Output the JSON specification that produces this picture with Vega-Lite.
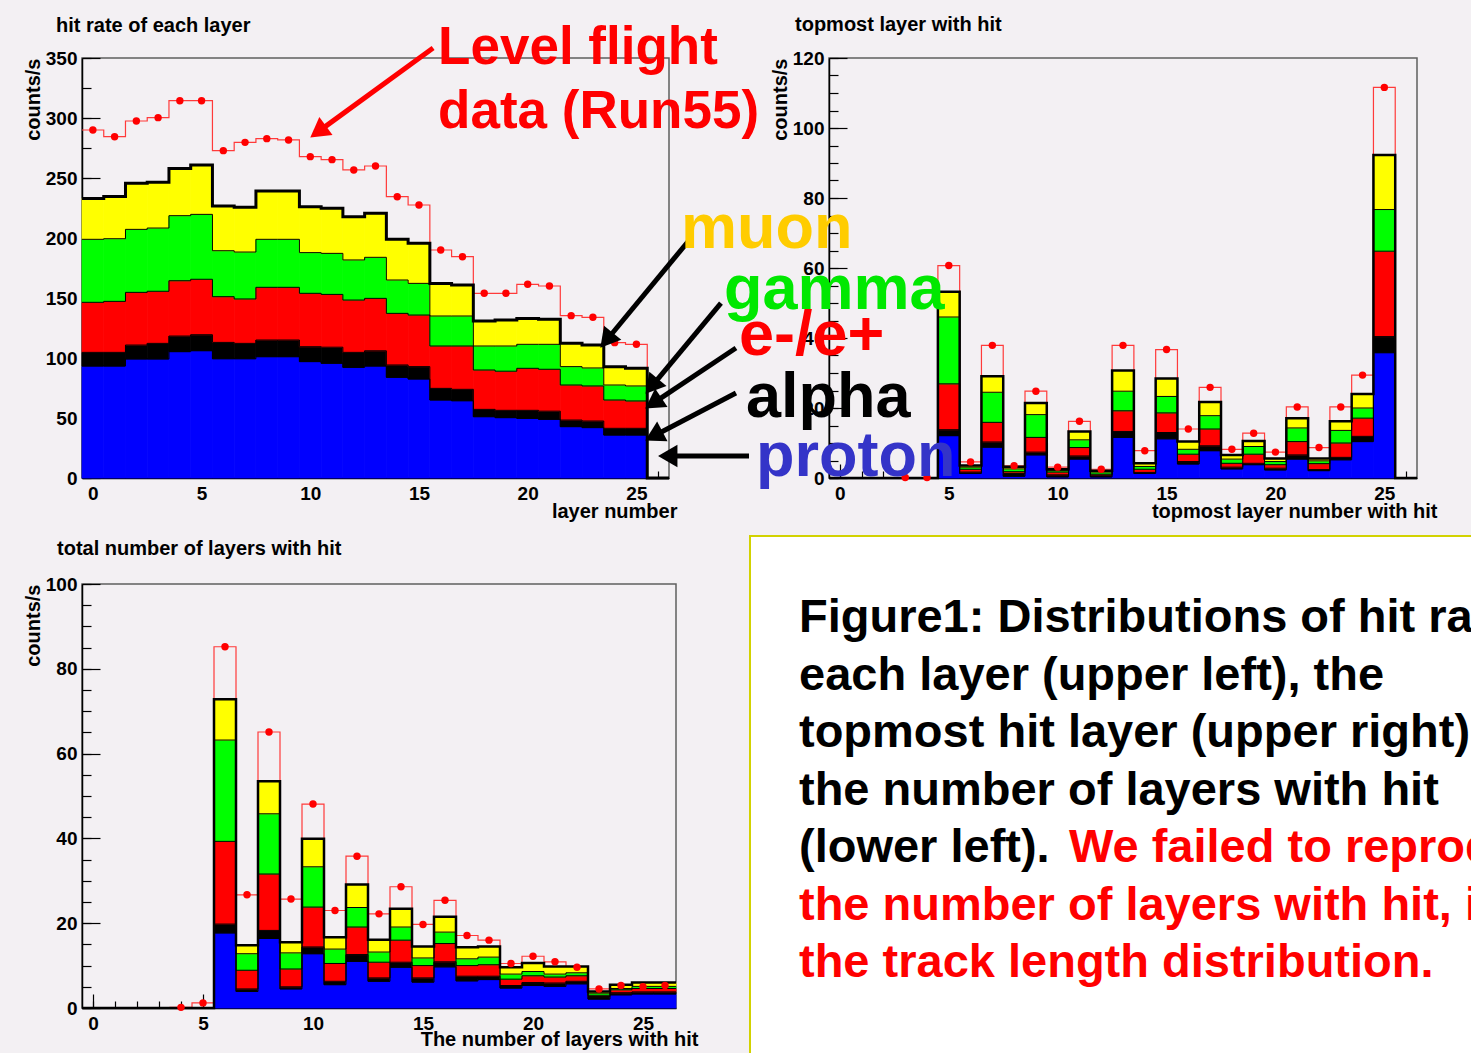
{
"$schema": "https://vega.github.io/schema/vega-lite/v6.json",
"background": "#f3f0f3",
"padding": {"left": 22, "top": 14, "right": 0, "bottom": 0},
"config": {
  "view": {"stroke": "#5f5f5f", "strokeWidth": 1.5},
  "axis": {"labelFont": "Liberation Sans", "labelFontSize": 19, "labelFontWeight": "bold", "labelColor": "#000000", "titleFont": "Liberation Sans", "titleFontSize": 20, "titleFontWeight": "bold", "titleColor": "#000000", "domainColor": "#000000", "domainWidth": 1.5, "tickColor": "#000000", "tickWidth": 1.2, "grid": false, "labelOverlap": false, "labelFlush": false, "labelBound": false},
  "title": {"font": "Liberation Sans", "fontSize": 20, "fontWeight": "bold", "color": "#000000", "anchor": "start", "frame": "group", "baseline": "alphabetic"},
  "text": {"font": "Liberation Sans", "fontWeight": "bold"}
},
"datasets": {
  "species": [{"species": "proton", "rank": 1}, {"species": "alpha", "rank": 2}, {"species": "electron", "rank": 3}, {"species": "gamma", "rank": 4}, {"species": "muon", "rank": 5}],
  "hitrate": [
    {"layer": 0, "lo": -0.5, "hi": 0.5, "proton": 93.3, "alpha": 11.4, "electron": 41.7, "gamma": 52.5, "muon": 34.1, "flight": 290.0},
    {"layer": 1, "lo": 0.5, "hi": 1.5, "proton": 93.3, "alpha": 11.4, "electron": 42.5, "gamma": 52.2, "muon": 35.1, "flight": 284.4},
    {"layer": 2, "lo": 1.5, "hi": 2.5, "proton": 99.2, "alpha": 11.6, "electron": 43.9, "gamma": 52.5, "muon": 38.4, "flight": 297.5},
    {"layer": 3, "lo": 2.5, "hi": 3.5, "proton": 99.2, "alpha": 13.0, "electron": 43.4, "gamma": 52.7, "muon": 38.1, "flight": 300.3},
    {"layer": 4, "lo": 3.5, "hi": 4.5, "proton": 105.3, "alpha": 13.0, "electron": 46.1, "gamma": 54.2, "muon": 39.4, "flight": 314.4},
    {"layer": 5, "lo": 4.5, "hi": 5.5, "proton": 106.1, "alpha": 13.3, "electron": 46.2, "gamma": 54.1, "muon": 41.1, "flight": 314.4},
    {"layer": 6, "lo": 5.5, "hi": 6.5, "proton": 99.4, "alpha": 13.6, "electron": 38.1, "gamma": 38.3, "muon": 37.3, "flight": 272.8},
    {"layer": 7, "lo": 6.5, "hi": 7.5, "proton": 99.4, "alpha": 12.8, "electron": 37.0, "gamma": 39.1, "muon": 37.3, "flight": 279.7},
    {"layer": 8, "lo": 7.5, "hi": 8.5, "proton": 101.1, "alpha": 13.9, "electron": 43.9, "gamma": 40.0, "muon": 40.3, "flight": 282.8},
    {"layer": 9, "lo": 8.5, "hi": 9.5, "proton": 101.1, "alpha": 13.9, "electron": 43.9, "gamma": 40.0, "muon": 40.3, "flight": 281.7},
    {"layer": 10, "lo": 9.5, "hi": 10.5, "proton": 97.0, "alpha": 12.4, "electron": 44.5, "gamma": 33.9, "muon": 38.2, "flight": 267.8},
    {"layer": 11, "lo": 10.5, "hi": 11.5, "proton": 95.6, "alpha": 13.4, "electron": 44.0, "gamma": 34.2, "muon": 37.5, "flight": 265.3},
    {"layer": 12, "lo": 11.5, "hi": 12.5, "proton": 92.2, "alpha": 12.5, "electron": 43.6, "gamma": 33.4, "muon": 36.1, "flight": 256.7},
    {"layer": 13, "lo": 12.5, "hi": 13.5, "proton": 93.3, "alpha": 12.7, "electron": 43.7, "gamma": 34.2, "muon": 36.7, "flight": 260.0},
    {"layer": 14, "lo": 13.5, "hi": 14.5, "proton": 83.9, "alpha": 10.3, "electron": 43.0, "gamma": 27.8, "muon": 34.0, "flight": 234.4},
    {"layer": 15, "lo": 14.5, "hi": 15.5, "proton": 82.5, "alpha": 10.3, "electron": 43.0, "gamma": 26.4, "muon": 33.4, "flight": 227.5},
    {"layer": 16, "lo": 15.5, "hi": 16.5, "proton": 65.0, "alpha": 9.7, "electron": 35.3, "gamma": 25.0, "muon": 27.0, "flight": 190.0},
    {"layer": 17, "lo": 16.5, "hi": 17.5, "proton": 64.4, "alpha": 9.5, "electron": 36.1, "gamma": 25.0, "muon": 25.8, "flight": 184.4},
    {"layer": 18, "lo": 17.5, "hi": 18.5, "proton": 51.1, "alpha": 6.1, "electron": 32.8, "gamma": 20.0, "muon": 20.8, "flight": 153.9},
    {"layer": 19, "lo": 18.5, "hi": 19.5, "proton": 50.3, "alpha": 6.1, "electron": 32.6, "gamma": 21.0, "muon": 21.7, "flight": 153.9},
    {"layer": 20, "lo": 19.5, "hi": 20.5, "proton": 49.7, "alpha": 6.7, "electron": 35.0, "gamma": 20.0, "muon": 21.6, "flight": 161.4},
    {"layer": 21, "lo": 20.5, "hi": 21.5, "proton": 48.9, "alpha": 6.8, "electron": 34.9, "gamma": 20.8, "muon": 20.8, "flight": 160.0},
    {"layer": 22, "lo": 21.5, "hi": 22.5, "proton": 42.8, "alpha": 5.5, "electron": 29.2, "gamma": 15.3, "muon": 19.4, "flight": 135.3},
    {"layer": 23, "lo": 22.5, "hi": 23.5, "proton": 42.0, "alpha": 5.5, "electron": 29.2, "gamma": 15.0, "muon": 19.1, "flight": 133.9},
    {"layer": 24, "lo": 23.5, "hi": 24.5, "proton": 35.8, "alpha": 5.6, "electron": 23.6, "gamma": 12.5, "muon": 15.3, "flight": 112.8},
    {"layer": 25, "lo": 24.5, "hi": 25.5, "proton": 35.8, "alpha": 5.6, "electron": 22.8, "gamma": 12.5, "muon": 14.7, "flight": 111.4},
    {"layer": 26, "lo": 25.5, "hi": 26.5, "proton": 0, "alpha": 0, "electron": 0, "gamma": 0, "muon": 0, "flight": 0}
  ],
  "topmost": [
    {"layer": 0, "lo": -0.5, "hi": 0.5, "proton": 0, "alpha": 0, "electron": 0, "gamma": 0, "muon": 0, "flight": 0},
    {"layer": 1, "lo": 0.5, "hi": 1.5, "proton": 0, "alpha": 0, "electron": 0, "gamma": 0, "muon": 0, "flight": 0},
    {"layer": 2, "lo": 1.5, "hi": 2.5, "proton": 0, "alpha": 0, "electron": 0, "gamma": 0, "muon": 0, "flight": 0},
    {"layer": 3, "lo": 2.5, "hi": 3.5, "proton": 0, "alpha": 0, "electron": 0, "gamma": 0, "muon": 0, "flight": 0.15},
    {"layer": 4, "lo": 3.5, "hi": 4.5, "proton": 0, "alpha": 0, "electron": 0, "gamma": 0, "muon": 0, "flight": 0.15},
    {"layer": 5, "lo": 4.5, "hi": 5.5, "proton": 12.1, "alpha": 1.7, "electron": 13.1, "gamma": 19.1, "muon": 7.2, "flight": 60.7},
    {"layer": 6, "lo": 5.5, "hi": 6.5, "proton": 1.3, "alpha": 0.4, "electron": 0.8, "gamma": 0.6, "muon": 0.5, "flight": 4.6},
    {"layer": 7, "lo": 6.5, "hi": 7.5, "proton": 8.8, "alpha": 1.5, "electron": 5.6, "gamma": 8.6, "muon": 4.6, "flight": 37.9},
    {"layer": 8, "lo": 7.5, "hi": 8.5, "proton": 0.5, "alpha": 0.8, "electron": 0.5, "gamma": 0.8, "muon": 0.6, "flight": 3.5},
    {"layer": 9, "lo": 8.5, "hi": 9.5, "proton": 6.6, "alpha": 0.8, "electron": 4.2, "gamma": 6.5, "muon": 3.3, "flight": 24.8},
    {"layer": 10, "lo": 9.5, "hi": 10.5, "proton": 0.3, "alpha": 0.6, "electron": 0.8, "gamma": 0.4, "muon": 0.4, "flight": 3.1},
    {"layer": 11, "lo": 10.5, "hi": 11.5, "proton": 5.4, "alpha": 0.9, "electron": 2.4, "gamma": 2.2, "muon": 2.4, "flight": 16.2},
    {"layer": 12, "lo": 11.5, "hi": 12.5, "proton": 0.3, "alpha": 0.5, "electron": 0.3, "gamma": 0.6, "muon": 0.4, "flight": 2.5},
    {"layer": 13, "lo": 12.5, "hi": 13.5, "proton": 11.6, "alpha": 1.7, "electron": 5.9, "gamma": 5.6, "muon": 5.9, "flight": 37.9},
    {"layer": 14, "lo": 13.5, "hi": 14.5, "proton": 1.3, "alpha": 0.3, "electron": 0.9, "gamma": 0.8, "muon": 0.9, "flight": 7.8},
    {"layer": 15, "lo": 14.5, "hi": 15.5, "proton": 11.2, "alpha": 1.8, "electron": 5.6, "gamma": 4.7, "muon": 5.1, "flight": 36.7},
    {"layer": 16, "lo": 15.5, "hi": 16.5, "proton": 4.0, "alpha": 0.7, "electron": 2.1, "gamma": 1.4, "muon": 2.2, "flight": 14.0},
    {"layer": 17, "lo": 16.5, "hi": 17.5, "proton": 7.8, "alpha": 1.4, "electron": 4.8, "gamma": 3.8, "muon": 3.9, "flight": 25.9},
    {"layer": 18, "lo": 17.5, "hi": 18.5, "proton": 2.6, "alpha": 0.5, "electron": 1.1, "gamma": 1.2, "muon": 1.2, "flight": 8.2},
    {"layer": 19, "lo": 18.5, "hi": 19.5, "proton": 3.8, "alpha": 0.4, "electron": 2.6, "gamma": 2.2, "muon": 1.6, "flight": 12.8},
    {"layer": 20, "lo": 19.5, "hi": 20.5, "proton": 2.3, "alpha": 0.5, "electron": 1.0, "gamma": 0.9, "muon": 0.9, "flight": 7.4},
    {"layer": 21, "lo": 20.5, "hi": 21.5, "proton": 5.4, "alpha": 1.2, "electron": 3.8, "gamma": 3.9, "muon": 2.8, "flight": 20.3},
    {"layer": 22, "lo": 21.5, "hi": 22.5, "proton": 2.1, "alpha": 0.3, "electron": 1.7, "gamma": 0.8, "muon": 0.7, "flight": 8.7},
    {"layer": 23, "lo": 22.5, "hi": 23.5, "proton": 5.2, "alpha": 0.7, "electron": 4.1, "gamma": 3.6, "muon": 2.6, "flight": 20.3},
    {"layer": 24, "lo": 23.5, "hi": 24.5, "proton": 10.4, "alpha": 1.5, "electron": 5.2, "gamma": 2.9, "muon": 4.0, "flight": 29.4},
    {"layer": 25, "lo": 24.5, "hi": 25.5, "proton": 35.8, "alpha": 4.6, "electron": 24.4, "gamma": 11.9, "muon": 15.6, "flight": 111.6},
    {"layer": 26, "lo": 25.5, "hi": 26.5, "proton": 0, "alpha": 0, "electron": 0, "gamma": 0, "muon": 0, "flight": 0}
  ],
  "nlayers": [
    {"layer": 0, "lo": -0.5, "hi": 0.5, "proton": 0, "alpha": 0, "electron": 0, "gamma": 0, "muon": 0, "flight": 0},
    {"layer": 1, "lo": 0.5, "hi": 1.5, "proton": 0, "alpha": 0, "electron": 0, "gamma": 0, "muon": 0, "flight": 0},
    {"layer": 2, "lo": 1.5, "hi": 2.5, "proton": 0, "alpha": 0, "electron": 0, "gamma": 0, "muon": 0, "flight": 0},
    {"layer": 3, "lo": 2.5, "hi": 3.5, "proton": 0, "alpha": 0, "electron": 0, "gamma": 0, "muon": 0, "flight": 0},
    {"layer": 4, "lo": 3.5, "hi": 4.5, "proton": 0, "alpha": 0, "electron": 0, "gamma": 0, "muon": 0, "flight": 0.15},
    {"layer": 5, "lo": 4.5, "hi": 5.5, "proton": 0, "alpha": 0, "electron": 0, "gamma": 0, "muon": 0, "flight": 1.2},
    {"layer": 6, "lo": 5.5, "hi": 6.5, "proton": 17.7, "alpha": 2.1, "electron": 19.5, "gamma": 23.9, "muon": 9.6, "flight": 85.2},
    {"layer": 7, "lo": 6.5, "hi": 7.5, "proton": 3.9, "alpha": 0.6, "electron": 4.4, "gamma": 3.9, "muon": 2.0, "flight": 26.7},
    {"layer": 8, "lo": 7.5, "hi": 8.5, "proton": 16.4, "alpha": 1.9, "electron": 13.3, "gamma": 14.2, "muon": 7.7, "flight": 65.1},
    {"layer": 9, "lo": 8.5, "hi": 9.5, "proton": 4.5, "alpha": 0.5, "electron": 4.2, "gamma": 3.8, "muon": 2.5, "flight": 25.7},
    {"layer": 10, "lo": 9.5, "hi": 10.5, "proton": 12.8, "alpha": 1.6, "electron": 9.4, "gamma": 9.5, "muon": 6.6, "flight": 48.1},
    {"layer": 11, "lo": 10.5, "hi": 11.5, "proton": 5.5, "alpha": 0.8, "electron": 4.2, "gamma": 3.4, "muon": 2.8, "flight": 23.0},
    {"layer": 12, "lo": 11.5, "hi": 12.5, "proton": 11.0, "alpha": 1.6, "electron": 6.5, "gamma": 4.6, "muon": 5.4, "flight": 35.8},
    {"layer": 13, "lo": 12.5, "hi": 13.5, "proton": 6.3, "alpha": 0.8, "electron": 3.7, "gamma": 2.4, "muon": 2.9, "flight": 22.2},
    {"layer": 14, "lo": 13.5, "hi": 14.5, "proton": 9.6, "alpha": 1.2, "electron": 5.2, "gamma": 3.1, "muon": 4.3, "flight": 28.6},
    {"layer": 15, "lo": 14.5, "hi": 15.5, "proton": 6.1, "alpha": 1.0, "electron": 2.9, "gamma": 1.8, "muon": 2.7, "flight": 19.7},
    {"layer": 16, "lo": 15.5, "hi": 16.5, "proton": 9.7, "alpha": 1.2, "electron": 4.3, "gamma": 2.7, "muon": 3.6, "flight": 25.4},
    {"layer": 17, "lo": 16.5, "hi": 17.5, "proton": 6.4, "alpha": 1.1, "electron": 2.5, "gamma": 1.6, "muon": 2.7, "flight": 17.1},
    {"layer": 18, "lo": 17.5, "hi": 18.5, "proton": 6.7, "alpha": 0.8, "electron": 2.7, "gamma": 1.8, "muon": 2.5, "flight": 16.0},
    {"layer": 19, "lo": 18.5, "hi": 19.5, "proton": 4.7, "alpha": 0.6, "electron": 1.5, "gamma": 1.2, "muon": 1.6, "flight": 10.5},
    {"layer": 20, "lo": 19.5, "hi": 20.5, "proton": 5.3, "alpha": 0.7, "electron": 1.6, "gamma": 1.0, "muon": 2.0, "flight": 12.2},
    {"layer": 21, "lo": 20.5, "hi": 21.5, "proton": 5.1, "alpha": 0.8, "electron": 1.4, "gamma": 0.7, "muon": 1.8, "flight": 10.9},
    {"layer": 22, "lo": 21.5, "hi": 22.5, "proton": 5.7, "alpha": 0.6, "electron": 1.3, "gamma": 0.7, "muon": 1.5, "flight": 9.6},
    {"layer": 23, "lo": 22.5, "hi": 23.5, "proton": 2.1, "alpha": 0.6, "electron": 0.3, "gamma": 0.5, "muon": 0.4, "flight": 4.5},
    {"layer": 24, "lo": 23.5, "hi": 24.5, "proton": 3.1, "alpha": 0.5, "electron": 0.7, "gamma": 0.3, "muon": 0.9, "flight": 5.3},
    {"layer": 25, "lo": 24.5, "hi": 25.5, "proton": 3.3, "alpha": 0.5, "electron": 0.8, "gamma": 0.5, "muon": 0.9, "flight": 5.0},
    {"layer": 26, "lo": 25.5, "hi": 26.5, "proton": 3.3, "alpha": 0.5, "electron": 0.8, "gamma": 0.5, "muon": 0.9, "flight": 5.3}
  ],
  "flightNote": [{"x": 15.88, "y": 345, "text": "Level flight"}, {"x": 15.88, "y": 291.4, "text": "data (Run55)"}],
  "redArrow": [{"tailX": 15.65, "tailY": 358.3, "headX": 10.48, "headY": 290.1, "heading": 233.9}],
  "blackArrows": [
    {"tailX": 27.51, "tailY": 200.0, "headX": 23.72, "headY": 116.9, "heading": 219.5},
    {"tailX": 28.89, "tailY": 145.8, "headX": 25.80, "headY": 78.5, "heading": 219.8},
    {"tailX": 29.58, "tailY": 108.3, "headX": 25.90, "headY": 63.9, "heading": 236.3},
    {"tailX": 29.58, "tailY": 70.8, "headX": 25.93, "headY": 36.3, "heading": 242.4},
    {"tailX": 30.18, "tailY": 18.3, "headX": 26.59, "headY": 18.3, "heading": 270}
  ],
  "speciesLabels": [
    {"x": -7.30, "y": 65.6, "text": "muon", "kind": "muon"},
    {"x": -5.32, "y": 48.2, "text": "gamma", "kind": "gamma"},
    {"x": -4.63, "y": 35.1, "text": "e-/e+", "kind": "electron"},
    {"x": -4.31, "y": 17.5, "text": "alpha", "kind": "alpha"},
    {"x": -3.85, "y": 0.6, "text": "proton", "kind": "proton"}
  ],
  "caption": [
    {"line": 1, "part": "start", "text": "Figure1: Distributions of hit rate of", "tone": "plain"},
    {"line": 2, "part": "start", "text": "each layer (upper left), the", "tone": "plain"},
    {"line": 3, "part": "start", "text": "topmost hit layer (upper right), and", "tone": "plain"},
    {"line": 4, "part": "start", "text": "the number of layers with hit", "tone": "plain"},
    {"line": 5, "part": "start", "text": "(lower left).", "tone": "plain"},
    {"line": 5, "part": "after", "text": "We failed to reproduce", "tone": "emphasis"},
    {"line": 6, "part": "start", "text": "the number of layers with hit, i.e.", "tone": "emphasis"},
    {"line": 7, "part": "start", "text": "the track length distribution.", "tone": "emphasis"}
  ]
},
"spacing": 13,
"resolve": {"scale": {"color": "independent", "fill": "independent", "stroke": "independent"}},
"vconcat": [
 {
  "spacing": 160,
  "bounds": "flush",
  "resolve": {"scale": {"color": "independent", "fill": "independent", "stroke": "independent"}},
  "hconcat": [
  {
    "width": 587, "height": 420,
    "title": {"text": "hit rate of each layer", "dx": -26, "offset": -14},
    "data": {"name": "hitrate"},
    "resolve": {"axis": {"x": "independent", "y": "independent"}},
    "layer": [
      {
        "transform": [{"fold": ["lo", "hi"], "as": ["edge", "xpos"]}],
        "mark": {"type": "line", "color": "#ff3a3a", "strokeWidth": 1.2},
        "encoding": {
          "x": {"field": "xpos", "type": "quantitative", "scale": {"domain": [-0.5, 26.5], "nice": false, "zero": false},
                "axis": {"orient": "bottom", "values": [0, 5, 10, 15, 20, 25], "tickSize": -14, "labelPadding": 20, "title": "layer number", "titleAlign": "right", "titleX": 595, "titlePadding": -2}},
          "y": {"field": "flight", "type": "quantitative", "scale": {"domain": [0, 350], "nice": false},
                "axis": {"orient": "left", "values": [0, 50, 100, 150, 200, 250, 300, 350], "tickSize": -18, "labelPadding": 23, "title": "counts/s", "titleAnchor": "end", "titlePadding": 2}},
          "order": [{"field": "xpos", "type": "quantitative"}, {"field": "edge", "type": "nominal"}]
        }
      },
      {
        "transform": [
          {"fold": ["proton", "alpha", "electron", "gamma", "muon"], "as": ["species", "count"]},
          {"lookup": "species", "from": {"data": {"name": "species"}, "key": "species", "fields": ["rank"]}},
          {"stack": "count", "groupby": ["layer"], "sort": [{"field": "rank", "order": "ascending"}], "as": ["v0", "v1"]}
        ],
        "mark": {"type": "bar", "strokeWidth": 0.8},
        "encoding": {
          "x": {"field": "lo", "type": "quantitative", "scale": {"domain": [-0.5, 26.5], "nice": false, "zero": false},
                "axis": {"orient": "bottom", "values": [0,1,2,3,4,5,6,7,8,9,10,11,12,13,14,15,16,17,18,19,20,21,22,23,24,25,26], "tickSize": -7, "labels": false, "domain": false, "title": null}},
          "x2": {"field": "hi"},
          "y": {"field": "v1", "type": "quantitative", "scale": {"domain": [0, 350], "nice": false},
                "axis": {"orient": "left", "values": [0,25,50,75,100,125,150,175,200,225,250,275,300,325,350], "tickSize": -9, "labels": false, "domain": false, "title": null}},
          "y2": {"field": "v0"},
          "color": {"field": "species", "type": "nominal", "scale": {"domain": ["proton", "alpha", "electron", "gamma", "muon"], "range": ["#0000ff", "#000000", "#ff0000", "#00ff00", "#ffff00"]}, "legend": null},
          "stroke": {"field": "species", "type": "nominal", "scale": {"domain": ["proton", "alpha", "electron", "gamma", "muon"], "range": ["#0000ff", "#000000", "#ff0000", "#00ff00", "#ffff00"]}, "legend": null}
        }
      },
      {
        "transform": [
          {"fold": ["proton", "alpha", "electron", "gamma", "muon"], "as": ["species", "count"]},
          {"lookup": "species", "from": {"data": {"name": "species"}, "key": "species", "fields": ["rank"]}},
          {"stack": "count", "groupby": ["layer"], "sort": [{"field": "rank", "order": "ascending"}], "as": ["v0", "v1"]},
          {"filter": "datum.species !== 'muon'"},
          {"fold": ["lo", "hi"], "as": ["edge", "xpos"]}
        ],
        "mark": {"type": "line", "color": "#000000", "strokeWidth": 1},
        "encoding": {
          "x": {"field": "xpos", "type": "quantitative", "scale": {"domain": [-0.5, 26.5], "nice": false, "zero": false}, "axis": null},
          "y": {"field": "v1", "type": "quantitative", "scale": {"domain": [0, 350], "nice": false}, "axis": null},
          "detail": {"field": "species", "type": "nominal"},
          "order": [{"field": "xpos", "type": "quantitative"}, {"field": "edge", "type": "nominal"}]
        }
      },
      {
        "transform": [
          {"fold": ["proton", "alpha", "electron", "gamma", "muon"], "as": ["species", "count"]},
          {"lookup": "species", "from": {"data": {"name": "species"}, "key": "species", "fields": ["rank"]}},
          {"stack": "count", "groupby": ["layer"], "sort": [{"field": "rank", "order": "ascending"}], "as": ["v0", "v1"]},
          {"filter": "datum.species === 'muon'"},
          {"fold": ["lo", "hi"], "as": ["edge", "xpos"]}
        ],
        "mark": {"type": "line", "color": "#000000", "strokeWidth": 3},
        "encoding": {
          "x": {"field": "xpos", "type": "quantitative", "scale": {"domain": [-0.5, 26.5], "nice": false, "zero": false}, "axis": null},
          "y": {"field": "v1", "type": "quantitative", "scale": {"domain": [0, 350], "nice": false}, "axis": null},
          "order": [{"field": "xpos", "type": "quantitative"}, {"field": "edge", "type": "nominal"}]
        }
      },
      {
        "transform": [{"filter": "datum.flight > 0"}],
        "mark": {"type": "circle", "color": "#ff0000", "size": 55, "opacity": 1},
        "encoding": {
          "x": {"field": "layer", "type": "quantitative", "scale": {"domain": [-0.5, 26.5], "nice": false, "zero": false}, "axis": null},
          "y": {"field": "flight", "type": "quantitative", "scale": {"domain": [0, 350], "nice": false}, "axis": null}
        }
      },
      {
        "data": {"name": "flightNote"},
        "mark": {"type": "text", "color": "#ff0000", "fontSize": 53, "align": "left", "baseline": "alphabetic"},
        "encoding": {
          "x": {"field": "x", "type": "quantitative", "scale": {"domain": [-0.5, 26.5], "nice": false, "zero": false}, "axis": null},
          "y": {"field": "y", "type": "quantitative", "scale": {"domain": [0, 350], "nice": false}, "axis": null},
          "text": {"field": "text"}
        }
      },
      {
        "data": {"name": "redArrow"},
        "mark": {"type": "rule", "color": "#ff0000", "strokeWidth": 5},
        "encoding": {
          "x": {"field": "tailX", "type": "quantitative", "scale": {"domain": [-0.5, 26.5], "nice": false, "zero": false}, "axis": null},
          "y": {"field": "tailY", "type": "quantitative", "scale": {"domain": [0, 350], "nice": false}, "axis": null},
          "x2": {"field": "headX"},
          "y2": {"field": "headY"}
        }
      },
      {
        "data": {"name": "redArrow"},
        "mark": {"type": "point", "shape": "triangle", "filled": true, "size": 500, "color": "#ff0000", "opacity": 1, "strokeWidth": 0},
        "encoding": {
          "x": {"field": "headX", "type": "quantitative", "scale": {"domain": [-0.5, 26.5], "nice": false, "zero": false}, "axis": null},
          "y": {"field": "headY", "type": "quantitative", "scale": {"domain": [0, 350], "nice": false}, "axis": null},
          "angle": {"field": "heading", "type": "quantitative", "scale": null}
        }
      },
      {
        "data": {"name": "blackArrows"},
        "mark": {"type": "rule", "color": "#000000", "strokeWidth": 5},
        "encoding": {
          "x": {"field": "tailX", "type": "quantitative", "scale": {"domain": [-0.5, 26.5], "nice": false, "zero": false}, "axis": null},
          "y": {"field": "tailY", "type": "quantitative", "scale": {"domain": [0, 350], "nice": false}, "axis": null},
          "x2": {"field": "headX"},
          "y2": {"field": "headY"}
        }
      },
      {
        "data": {"name": "blackArrows"},
        "mark": {"type": "point", "shape": "triangle", "filled": true, "size": 500, "color": "#000000", "opacity": 1, "strokeWidth": 0},
        "encoding": {
          "x": {"field": "headX", "type": "quantitative", "scale": {"domain": [-0.5, 26.5], "nice": false, "zero": false}, "axis": null},
          "y": {"field": "headY", "type": "quantitative", "scale": {"domain": [0, 350], "nice": false}, "axis": null},
          "angle": {"field": "heading", "type": "quantitative", "scale": null}
        }
      }
    ]
  },
  {
    "width": 588, "height": 420,
    "title": {"text": "topmost layer with hit", "dx": -34, "offset": 14},
    "data": {"name": "topmost"},
    "resolve": {"axis": {"x": "independent", "y": "independent"}},
    "layer": [
      {
        "transform": [{"fold": ["lo", "hi"], "as": ["edge", "xpos"]}],
        "mark": {"type": "line", "color": "#ff3a3a", "strokeWidth": 1.2},
        "encoding": {
          "x": {"field": "xpos", "type": "quantitative", "scale": {"domain": [-0.5, 26.5], "nice": false, "zero": false},
                "axis": {"orient": "bottom", "values": [0, 5, 10, 15, 20, 25], "tickSize": -14, "labelPadding": 20, "title": "topmost layer number with hit", "titleAlign": "right", "titleX": 608, "titlePadding": -2}},
          "y": {"field": "flight", "type": "quantitative", "scale": {"domain": [0, 120], "nice": false},
                "axis": {"orient": "left", "values": [0, 20, 40, 60, 80, 100, 120], "tickSize": -18, "labelPadding": 23, "title": "counts/s", "titleAnchor": "end", "titlePadding": 2}},
          "order": [{"field": "xpos", "type": "quantitative"}, {"field": "edge", "type": "nominal"}]
        }
      },
      {
        "transform": [
          {"fold": ["proton", "alpha", "electron", "gamma", "muon"], "as": ["species", "count"]},
          {"lookup": "species", "from": {"data": {"name": "species"}, "key": "species", "fields": ["rank"]}},
          {"stack": "count", "groupby": ["layer"], "sort": [{"field": "rank", "order": "ascending"}], "as": ["v0", "v1"]}
        ],
        "mark": {"type": "bar", "strokeWidth": 0.8},
        "encoding": {
          "x": {"field": "lo", "type": "quantitative", "scale": {"domain": [-0.5, 26.5], "nice": false, "zero": false},
                "axis": {"orient": "bottom", "values": [0,1,2,3,4,5,6,7,8,9,10,11,12,13,14,15,16,17,18,19,20,21,22,23,24,25,26], "tickSize": -7, "labels": false, "domain": false, "title": null}},
          "x2": {"field": "hi"},
          "y": {"field": "v1", "type": "quantitative", "scale": {"domain": [0, 120], "nice": false},
                "axis": {"orient": "left", "values": [0,5,10,15,20,25,30,35,40,45,50,55,60,65,70,75,80,85,90,95,100,105,110,115,120], "tickSize": -9, "labels": false, "domain": false, "title": null}},
          "y2": {"field": "v0"},
          "color": {"field": "species", "type": "nominal", "scale": {"domain": ["proton", "alpha", "electron", "gamma", "muon"], "range": ["#0000ff", "#000000", "#ff0000", "#00ff00", "#ffff00"]}, "legend": null},
          "stroke": {"field": "species", "type": "nominal", "scale": {"domain": ["proton", "alpha", "electron", "gamma", "muon"], "range": ["#0000ff", "#000000", "#ff0000", "#00ff00", "#ffff00"]}, "legend": null}
        }
      },
      {
        "transform": [
          {"fold": ["proton", "alpha", "electron", "gamma", "muon"], "as": ["species", "count"]},
          {"lookup": "species", "from": {"data": {"name": "species"}, "key": "species", "fields": ["rank"]}},
          {"stack": "count", "groupby": ["layer"], "sort": [{"field": "rank", "order": "ascending"}], "as": ["v0", "v1"]},
          {"filter": "datum.species !== 'muon'"},
          {"fold": ["lo", "hi"], "as": ["edge", "xpos"]}
        ],
        "mark": {"type": "line", "color": "#000000", "strokeWidth": 1},
        "encoding": {
          "x": {"field": "xpos", "type": "quantitative", "scale": {"domain": [-0.5, 26.5], "nice": false, "zero": false}, "axis": null},
          "y": {"field": "v1", "type": "quantitative", "scale": {"domain": [0, 120], "nice": false}, "axis": null},
          "detail": {"field": "species", "type": "nominal"},
          "order": [{"field": "xpos", "type": "quantitative"}, {"field": "edge", "type": "nominal"}]
        }
      },
      {
        "transform": [
          {"fold": ["proton", "alpha", "electron", "gamma", "muon"], "as": ["species", "count"]},
          {"lookup": "species", "from": {"data": {"name": "species"}, "key": "species", "fields": ["rank"]}},
          {"stack": "count", "groupby": ["layer"], "sort": [{"field": "rank", "order": "ascending"}], "as": ["v0", "v1"]},
          {"filter": "datum.species === 'muon'"},
          {"fold": ["lo", "hi"], "as": ["edge", "xpos"]}
        ],
        "mark": {"type": "line", "color": "#000000", "strokeWidth": 2.5},
        "encoding": {
          "x": {"field": "xpos", "type": "quantitative", "scale": {"domain": [-0.5, 26.5], "nice": false, "zero": false}, "axis": null},
          "y": {"field": "v1", "type": "quantitative", "scale": {"domain": [0, 120], "nice": false}, "axis": null},
          "order": [{"field": "xpos", "type": "quantitative"}, {"field": "edge", "type": "nominal"}]
        }
      },
      {
        "transform": [{"filter": "datum.flight > 0"}],
        "mark": {"type": "circle", "color": "#ff0000", "size": 55, "opacity": 1},
        "encoding": {
          "x": {"field": "layer", "type": "quantitative", "scale": {"domain": [-0.5, 26.5], "nice": false, "zero": false}, "axis": null},
          "y": {"field": "flight", "type": "quantitative", "scale": {"domain": [0, 120], "nice": false}, "axis": null}
        }
      },
      {
        "data": {"name": "speciesLabels"},
        "mark": {"type": "text", "fontSize": 63, "align": "left", "baseline": "alphabetic"},
        "encoding": {
          "x": {"field": "x", "type": "quantitative", "scale": {"domain": [-0.5, 26.5], "nice": false, "zero": false}, "axis": null},
          "y": {"field": "y", "type": "quantitative", "scale": {"domain": [0, 120], "nice": false}, "axis": null},
          "text": {"field": "text"},
          "fill": {"field": "kind", "type": "nominal", "scale": {"domain": ["muon", "gamma", "electron", "alpha", "proton"], "range": ["#ffcc00", "#00e800", "#ff0000", "#000000", "#3434c8"]}, "legend": null}
        }
      }
    ]
  }
  ]
 },
 {
  "spacing": 74,
  "bounds": "flush",
  "center": true,
  "resolve": {"scale": {"color": "independent", "fill": "independent", "stroke": "independent"}},
  "hconcat": [
  {
    "width": 594, "height": 424,
    "title": {"text": "total number of layers with hit", "dx": -25, "offset": 16},
    "data": {"name": "nlayers"},
    "resolve": {"axis": {"x": "independent", "y": "independent"}},
    "layer": [
      {
        "transform": [{"fold": ["lo", "hi"], "as": ["edge", "xpos"]}],
        "mark": {"type": "line", "color": "#ff3a3a", "strokeWidth": 1.2},
        "encoding": {
          "x": {"field": "xpos", "type": "quantitative", "scale": {"domain": [-0.5, 26.5], "nice": false, "zero": false},
                "axis": {"orient": "bottom", "values": [0, 5, 10, 15, 20, 25], "tickSize": -14, "labelPadding": 20, "title": "The number of layers with hit", "titleAlign": "right", "titleX": 616, "titlePadding": -4}},
          "y": {"field": "flight", "type": "quantitative", "scale": {"domain": [0, 100], "nice": false},
                "axis": {"orient": "left", "values": [0, 20, 40, 60, 80, 100], "tickSize": -18, "labelPadding": 23, "title": "counts/s", "titleAnchor": "end", "titlePadding": 2}},
          "order": [{"field": "xpos", "type": "quantitative"}, {"field": "edge", "type": "nominal"}]
        }
      },
      {
        "transform": [
          {"fold": ["proton", "alpha", "electron", "gamma", "muon"], "as": ["species", "count"]},
          {"lookup": "species", "from": {"data": {"name": "species"}, "key": "species", "fields": ["rank"]}},
          {"stack": "count", "groupby": ["layer"], "sort": [{"field": "rank", "order": "ascending"}], "as": ["v0", "v1"]}
        ],
        "mark": {"type": "bar", "strokeWidth": 0.8},
        "encoding": {
          "x": {"field": "lo", "type": "quantitative", "scale": {"domain": [-0.5, 26.5], "nice": false, "zero": false},
                "axis": {"orient": "bottom", "values": [0,1,2,3,4,5,6,7,8,9,10,11,12,13,14,15,16,17,18,19,20,21,22,23,24,25,26], "tickSize": -7, "labels": false, "domain": false, "title": null}},
          "x2": {"field": "hi"},
          "y": {"field": "v1", "type": "quantitative", "scale": {"domain": [0, 100], "nice": false},
                "axis": {"orient": "left", "values": [0,5,10,15,20,25,30,35,40,45,50,55,60,65,70,75,80,85,90,95,100], "tickSize": -9, "labels": false, "domain": false, "title": null}},
          "y2": {"field": "v0"},
          "color": {"field": "species", "type": "nominal", "scale": {"domain": ["proton", "alpha", "electron", "gamma", "muon"], "range": ["#0000ff", "#000000", "#ff0000", "#00ff00", "#ffff00"]}, "legend": null},
          "stroke": {"field": "species", "type": "nominal", "scale": {"domain": ["proton", "alpha", "electron", "gamma", "muon"], "range": ["#0000ff", "#000000", "#ff0000", "#00ff00", "#ffff00"]}, "legend": null}
        }
      },
      {
        "transform": [
          {"fold": ["proton", "alpha", "electron", "gamma", "muon"], "as": ["species", "count"]},
          {"lookup": "species", "from": {"data": {"name": "species"}, "key": "species", "fields": ["rank"]}},
          {"stack": "count", "groupby": ["layer"], "sort": [{"field": "rank", "order": "ascending"}], "as": ["v0", "v1"]},
          {"filter": "datum.species !== 'muon'"},
          {"fold": ["lo", "hi"], "as": ["edge", "xpos"]}
        ],
        "mark": {"type": "line", "color": "#000000", "strokeWidth": 1},
        "encoding": {
          "x": {"field": "xpos", "type": "quantitative", "scale": {"domain": [-0.5, 26.5], "nice": false, "zero": false}, "axis": null},
          "y": {"field": "v1", "type": "quantitative", "scale": {"domain": [0, 100], "nice": false}, "axis": null},
          "detail": {"field": "species", "type": "nominal"},
          "order": [{"field": "xpos", "type": "quantitative"}, {"field": "edge", "type": "nominal"}]
        }
      },
      {
        "transform": [
          {"fold": ["proton", "alpha", "electron", "gamma", "muon"], "as": ["species", "count"]},
          {"lookup": "species", "from": {"data": {"name": "species"}, "key": "species", "fields": ["rank"]}},
          {"stack": "count", "groupby": ["layer"], "sort": [{"field": "rank", "order": "ascending"}], "as": ["v0", "v1"]},
          {"filter": "datum.species === 'muon'"},
          {"fold": ["lo", "hi"], "as": ["edge", "xpos"]}
        ],
        "mark": {"type": "line", "color": "#000000", "strokeWidth": 2.5},
        "encoding": {
          "x": {"field": "xpos", "type": "quantitative", "scale": {"domain": [-0.5, 26.5], "nice": false, "zero": false}, "axis": null},
          "y": {"field": "v1", "type": "quantitative", "scale": {"domain": [0, 100], "nice": false}, "axis": null},
          "order": [{"field": "xpos", "type": "quantitative"}, {"field": "edge", "type": "nominal"}]
        }
      },
      {
        "transform": [{"filter": "datum.flight > 0"}],
        "mark": {"type": "circle", "color": "#ff0000", "size": 55, "opacity": 1},
        "encoding": {
          "x": {"field": "layer", "type": "quantitative", "scale": {"domain": [-0.5, 26.5], "nice": false, "zero": false}, "axis": null},
          "y": {"field": "flight", "type": "quantitative", "scale": {"domain": [0, 100], "nice": false}, "axis": null}
        }
      }
    ]
  },
  {
    "width": 740, "height": 520,
    "view": {"fill": "#ffffff", "stroke": "#d2d200", "strokeWidth": 2},
    "data": {"name": "caption"},
    "mark": {"type": "text", "fontSize": 47, "align": "left", "baseline": "middle"},
    "encoding": {
      "x": {"field": "part", "type": "nominal", "scale": {"type": "point", "domain": ["start", "after"], "range": [49, 319], "padding": 0}, "axis": null},
      "y": {"field": "line", "type": "ordinal", "scale": {"type": "point", "domain": [1, 2, 3, 4, 5, 6, 7], "range": [82, 427], "padding": 0}, "axis": null},
      "text": {"field": "text"},
      "color": {"field": "tone", "type": "nominal", "scale": {"domain": ["plain", "emphasis"], "range": ["#000000", "#ff0000"]}, "legend": null}
    }
  }
  ]
 }
]
}
